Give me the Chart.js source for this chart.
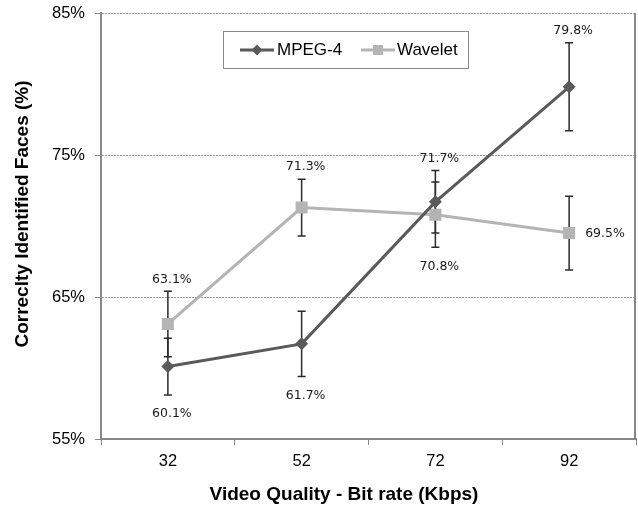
<!DOCTYPE html>
<html>
<head>
<meta charset="utf-8">
<title>Correctly identified faces vs bit rate</title>
<script src="https://cdn.jsdelivr.net/npm/chart.js@4.4.1/dist/chart.umd.min.js"></script>
<style>
  html, body { margin: 0; padding: 0; background: #fff; }
  canvas { display: block; }
</style>
</head>
<body>
<canvas id="chart" width="638" height="525"></canvas>
<script>
const bitRates = ['32', '52', '72', '92'];
const mpeg4 = [60.1, 61.7, 71.7, 79.8];
const mpeg4Err = [2.0, 2.3, 2.2, 3.1];
const wavelet = [63.1, 71.3, 70.8, 69.5];
const waveletErr = [2.3, 2.0, 2.3, 2.6];
const yTicks = [55, 65, 75, 85];
// which side of the point each value label goes
const mpeg4LabelPos = ['below', 'below', 'above', 'above'];
const waveletLabelPos = ['above', 'above', 'below', 'right'];

const axisGrey = '#878787';

// error bars go under the lines/markers
const errorBars = {
  id: 'errorBars',
  beforeDatasetsDraw(chart) {
    const ctx = chart.ctx;
    const y = chart.scales.y;
    ctx.save();
    ctx.strokeStyle = '#2a2a2a';
    ctx.lineWidth = 1.5;
    chart.data.datasets.forEach((ds, di) => {
      chart.getDatasetMeta(di).data.forEach((pt, i) => {
        const top = y.getPixelForValue(ds.data[i] + ds.errors[i]);
        const bot = y.getPixelForValue(ds.data[i] - ds.errors[i]);
        const x = pt.x;
        ctx.beginPath();
        ctx.moveTo(x, top); ctx.lineTo(x, bot);
        ctx.moveTo(x - 4, top); ctx.lineTo(x + 4, top);
        ctx.moveTo(x - 4, bot); ctx.lineTo(x + 4, bot);
        ctx.stroke();
      });
    });
    ctx.restore();
  }
};

const valueLabels = {
  id: 'valueLabels',
  afterDatasetsDraw(chart) {
    const ctx = chart.ctx;
    const y = chart.scales.y;
    ctx.save();
    ctx.font = '12.5px "DejaVu Sans"';
    ctx.fillStyle = '#1a1a1a';
    ctx.textBaseline = 'middle';
    chart.data.datasets.forEach((ds, di) => {
      chart.getDatasetMeta(di).data.forEach((pt, i) => {
        const txt = ds.data[i].toFixed(1) + '%';
        const pos = ds.labelPos[i];
        if (pos === 'right') {
          ctx.textAlign = 'left';
          ctx.fillText(txt, pt.x + 16, pt.y + 1);
          return;
        }
        ctx.textAlign = 'center';
        if (pos === 'above') {
          ctx.fillText(txt, pt.x + 4, y.getPixelForValue(ds.data[i] + ds.errors[i]) - 12);
        } else {
          ctx.fillText(txt, pt.x + 4, y.getPixelForValue(ds.data[i] - ds.errors[i]) + 19);
        }
      });
    });
    ctx.restore();
  }
};

function drawMarker(ctx, style, x, y, r, color) {
  ctx.fillStyle = color;
  ctx.beginPath();
  if (style === 'rectRot') {
    ctx.moveTo(x - r, y); ctx.lineTo(x, y - r); ctx.lineTo(x + r, y); ctx.lineTo(x, y + r);
    ctx.closePath();
  } else {
    ctx.rect(x - r, y - r, 2 * r, 2 * r);
  }
  ctx.fill();
}

// legend box, titles and the right edge of the plot area
const frame = {
  id: 'frame',
  afterDraw(chart) {
    const ctx = chart.ctx;
    const a = chart.chartArea;
    ctx.save();

    ctx.strokeStyle = axisGrey;
    ctx.lineWidth = 2;
    ctx.beginPath();
    ctx.moveTo(a.right - 1, a.top);
    ctx.lineTo(a.right - 1, a.bottom);
    ctx.stroke();

    // legend
    ctx.fillStyle = '#fff';
    ctx.fillRect(223, 31, 245, 37);
    ctx.strokeStyle = '#8a8a8a';
    ctx.lineWidth = 1;
    ctx.strokeRect(223.5, 31.5, 245, 37);
    const items = [[240, 277], [361, 397]];
    ctx.font = '17px "Liberation Sans", Arial, sans-serif';
    ctx.textBaseline = 'middle';
    ctx.textAlign = 'left';
    chart.data.datasets.forEach((ds, i) => {
      const [lx, tx] = items[i];
      ctx.strokeStyle = ds.borderColor;
      ctx.lineWidth = 3;
      ctx.beginPath();
      ctx.moveTo(lx, 50); ctx.lineTo(lx + 34, 50);
      ctx.stroke();
      drawMarker(ctx, ds.pointStyle, lx + 17, 50, ds.pointStyle === 'rect' ? 5 : 5.5, ds.borderColor);
      ctx.fillStyle = '#000';
      ctx.fillText(ds.label, tx, 50.5);
    });

    // axis titles
    ctx.fillStyle = '#000';
    ctx.font = 'bold 19px "Liberation Sans", Arial, sans-serif';
    ctx.textAlign = 'center';
    ctx.fillText('Video Quality - Bit rate (Kbps)', 344, 495);
    ctx.translate(23, 214);
    ctx.rotate(-Math.PI / 2);
    ctx.fillText('Correclty Identified Faces (%)', 0, 0);
    ctx.restore();
  }
};

new Chart(document.getElementById('chart'), {
  type: 'line',
  data: {
    labels: bitRates,
    datasets: [
      {
        label: 'MPEG-4',
        data: mpeg4,
        errors: mpeg4Err,
        labelPos: mpeg4LabelPos,
        borderColor: '#5a5a5a',
        backgroundColor: '#5a5a5a',
        borderWidth: 3,
        pointStyle: 'rectRot',
        pointRadius: 6.5,
        pointBorderWidth: 0,
        tension: 0
      },
      {
        label: 'Wavelet',
        data: wavelet,
        errors: waveletErr,
        labelPos: waveletLabelPos,
        borderColor: '#b4b4b4',
        backgroundColor: '#b4b4b4',
        borderWidth: 3,
        pointStyle: 'rect',
        pointRadius: 8.5,
        pointBorderWidth: 0,
        tension: 0
      }
    ]
  },
  options: {
    responsive: false,
    animation: false,
    devicePixelRatio: 1,
    layout: {
      autoPadding: false,
      padding: { top: 13, right: 2, left: 0, bottom: 0 }
    },
    plugins: {
      legend: { display: false },
      tooltip: { enabled: false }
    },
    scales: {
      x: {
        offset: true,
        afterFit: s => { s.height = 86; s.paddingLeft = 0; s.paddingRight = 0; },
        grid: {
          offset: true,
          drawOnChartArea: false,
          tickLength: 6,
          tickColor: axisGrey,
          tickWidth: 1
        },
        border: { color: axisGrey, width: 2 },
        ticks: {
          color: '#000',
          padding: 7,
          font: { family: '"Liberation Sans", Arial, sans-serif', size: 16.5 }
        }
      },
      y: {
        min: 55,
        max: 85,
        afterFit: s => { s.width = 101; s.paddingTop = 0; s.paddingBottom = 0; },
        afterBuildTicks: s => { s.ticks = yTicks.map(v => ({ value: v })); },
        grid: {
          color: '#9a9a9a',
          lineWidth: 1,
          tickLength: 6,
          tickColor: axisGrey,
          tickWidth: 1
        },
        border: { color: axisGrey, width: 2, dash: [2, 1] },
        ticks: {
          color: '#000',
          padding: 10,
          callback: v => v + '%',
          font: { family: '"Liberation Sans", Arial, sans-serif', size: 16.5 }
        }
      }
    }
  },
  plugins: [errorBars, valueLabels, frame]
});
</script>
</body>
</html>
